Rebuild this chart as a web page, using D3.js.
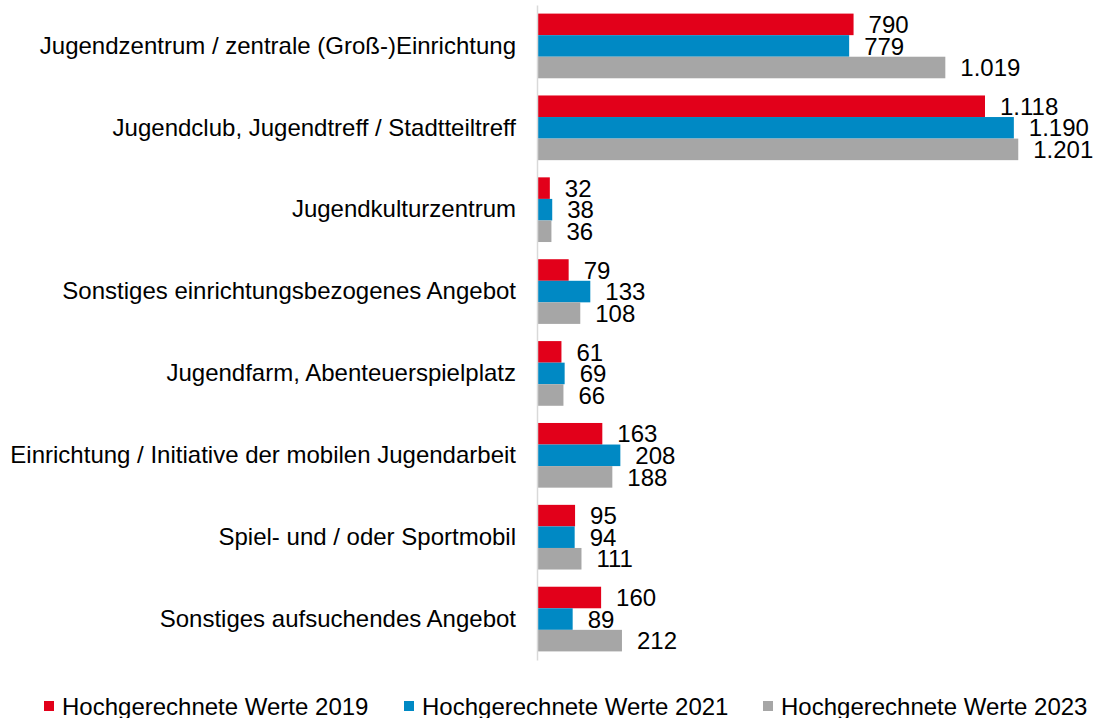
<!DOCTYPE html>
<html>
<head>
<meta charset="utf-8">
<script src="https://cdn.jsdelivr.net/npm/d3@7"></script>
<style>
  body { margin: 0; background: #fff; }
  text { font-family: 'Liberation Sans', Arial, sans-serif; }
</style>
</head>
<body>
<div id="chart"></div>
<script>
const categories = [
  'Jugendzentrum / zentrale (Groß-)Einrichtung',
  'Jugendclub, Jugendtreff / Stadtteiltreff',
  'Jugendkulturzentrum',
  'Sonstiges einrichtungsbezogenes Angebot',
  'Jugendfarm, Abenteuerspielplatz',
  'Einrichtung / Initiative der mobilen Jugendarbeit',
  'Spiel- und / oder Sportmobil',
  'Sonstiges aufsuchendes Angebot'
]
const seriesNames = ['Hochgerechnete Werte 2019', 'Hochgerechnete Werte 2021', 'Hochgerechnete Werte 2023']
const values2019 = [790, 1118, 32, 79, 61, 163, 95, 160]
const values2021 = [779, 1190, 38, 133, 69, 208, 94, 89]
const values2023 = [1019, 1201, 36, 108, 66, 188, 111, 212]
const colors = ['#e2001a', '#0089c4', '#a6a6a6']

const width = 1093
const height = 718
const series = [values2019, values2021, values2023]
const fmt = d3.formatLocale({ decimal: ',', thousands: '.', grouping: [3], currency: ['', '€'] }).format(',')

const svg = d3.select('#chart')
    .append('svg')
    .attr('width', width)
    .attr('height', height)

const x = d3.scaleLinear()
    .domain([0, 1400])
    .range([537, 1098])

const y = d3.scaleBand()
    .domain(categories)
    .range([5, 660])
    .paddingInner(0.21)
    .paddingOuter(0.105)

const ySub = d3.scaleBand()
    .domain(d3.range(series.length))
    .range([0, y.bandwidth()])

// bars
categories.forEach((cat, i) => {
    const g = svg.append('g').attr('transform', `translate(0,${y(cat)})`)
    series.forEach((vals, s) => {
        g.append('rect')
            .attr('x', x(0))
            .attr('y', ySub(s))
            .attr('width', x(vals[i]) - x(0))
            .attr('height', ySub.bandwidth())
            .attr('fill', colors[s])
        g.append('text')
            .attr('x', x(vals[i]) + 15)
            .attr('y', ySub(s) + ySub.bandwidth() / 2)
            .attr('dy', '0.36em')
            .style('font-size', '24px')
            .style('fill', '#000')
            .text(fmt(vals[i]))
    })
})

// category axis
const yAxis = svg.append('g')
    .attr('transform', `translate(${x(0)},0)`)
    .call(d3.axisLeft(y).tickSize(0).tickPadding(21))
yAxis.select('.domain').attr('stroke', '#d9d9d9').attr('stroke-width', 1.5)
yAxis.selectAll('text')
    .style('font-size', '24px')
    .style('font-family', "'Liberation Sans', Arial, sans-serif")
    .style('fill', '#000')

// legend
const legendX = [44, 404, 763]
const legend = svg.append('g')
seriesNames.forEach((name, s) => {
    legend.append('rect')
        .attr('x', legendX[s])
        .attr('y', 701)
        .attr('width', 10)
        .attr('height', 10)
        .attr('fill', colors[s])
    legend.append('text')
        .attr('x', legendX[s] + 18)
        .attr('y', 706)
        .attr('dy', '0.36em')
        .style('font-size', '24px')
        .style('fill', '#000')
        .text(name)
})
</script>
</body>
</html>
